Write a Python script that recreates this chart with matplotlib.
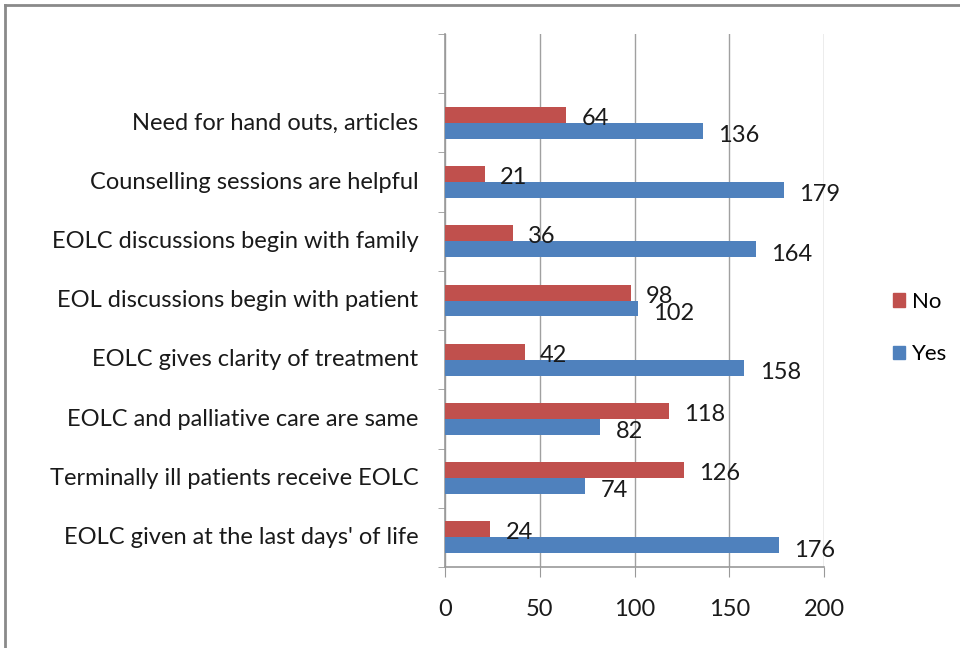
import matplotlib
matplotlib.use("Agg")
import matplotlib.pyplot as plt
from matplotlib.lines import Line2D
from matplotlib.patches import Patch

categories = [
    "EOLC given at the last days' of life",
    "Terminally ill patients receive EOLC",
    "EOLC and palliative care are same",
    "EOLC gives clarity of treatment",
    "EOL discussions begin with patient",
    "EOLC discussions begin with family",
    "Counselling sessions are helpful",
    "Need for hand outs, articles",
]
yes_vals = [176, 74, 82, 158, 102, 164, 179, 136]
no_vals = [24, 126, 118, 42, 98, 36, 21, 64]
xticks = [0, 50, 100, 150, 200]

RED = "#C0504D"
BLUE = "#4F81BD"
FONT = "Lato"
FS = 17
TXT = "#1a1a1a"

fig = plt.figure(figsize=(9.6, 6.48), dpi=100)
ax = fig.add_axes([445/960, 1-567/648, 379/960, (567-34)/648])

h = 0.27
ys = list(range(len(categories)))
ax.barh([y - h/2 for y in ys], yes_vals, height=h, color=BLUE, zorder=3)
ax.barh([y + h/2 for y in ys], no_vals, height=h, color=RED, zorder=3)

for y, v in zip(ys, no_vals):
    ax.text(v + 8, y + h/2 - 0.06, str(v), va="center", ha="left",
            fontsize=FS, family=FONT, color=TXT, zorder=4)
for y, v in zip(ys, yes_vals):
    ax.text(v + 8, y - h/2 - 0.08, str(v), va="center", ha="left",
            fontsize=FS, family=FONT, color=TXT, zorder=4)

ax.set_xlim(0, 200)
ax.set_ylim(-0.5, len(categories) + 0.5)
ax.set_xticks(xticks)
ax.set_xticklabels([str(t) for t in xticks], fontsize=FS, family=FONT, color=TXT)
ax.set_yticks([y + 0.03 for y in ys])
ax.set_yticklabels(categories, fontsize=FS, family=FONT, color=TXT)
ax.set_yticks([y - 0.5 for y in range(len(categories) + 2)], minor=True)
ax.tick_params(axis="y", which="major", length=0, pad=19)
ax.tick_params(axis="y", which="minor", length=5, color="#999999", direction="out")
ax.tick_params(axis="x", length=7, color="#999999", pad=16)
ax.grid(axis="x", color="#A0A0A0", linewidth=1, zorder=0)
for s in ["top", "right"]:
    ax.spines[s].set_visible(False)
for s in ["left", "bottom"]:
    ax.spines[s].set_color("#999999")
    ax.spines[s].set_linewidth(1.2)

handles = [Patch(color=RED, label="No"), Patch(color=BLUE, label="Yes")]
fig.legend(handles=handles, loc="center left", bbox_to_anchor=(893/960, 1-328/648),
           frameon=False, prop={"family": FONT, "size": 16},
           borderpad=0, borderaxespad=0,
           handlelength=0.55, handleheight=0.55, handletextpad=0.3, labelspacing=1.45)

fig.add_artist(Line2D([5/960, 5/960], [0, 1-5/648], color="#8a8a8a", linewidth=2))
fig.add_artist(Line2D([5/960, 1], [1-5/648, 1-5/648], color="#8a8a8a", linewidth=2))

fig.savefig("out.png", dpi=100)
